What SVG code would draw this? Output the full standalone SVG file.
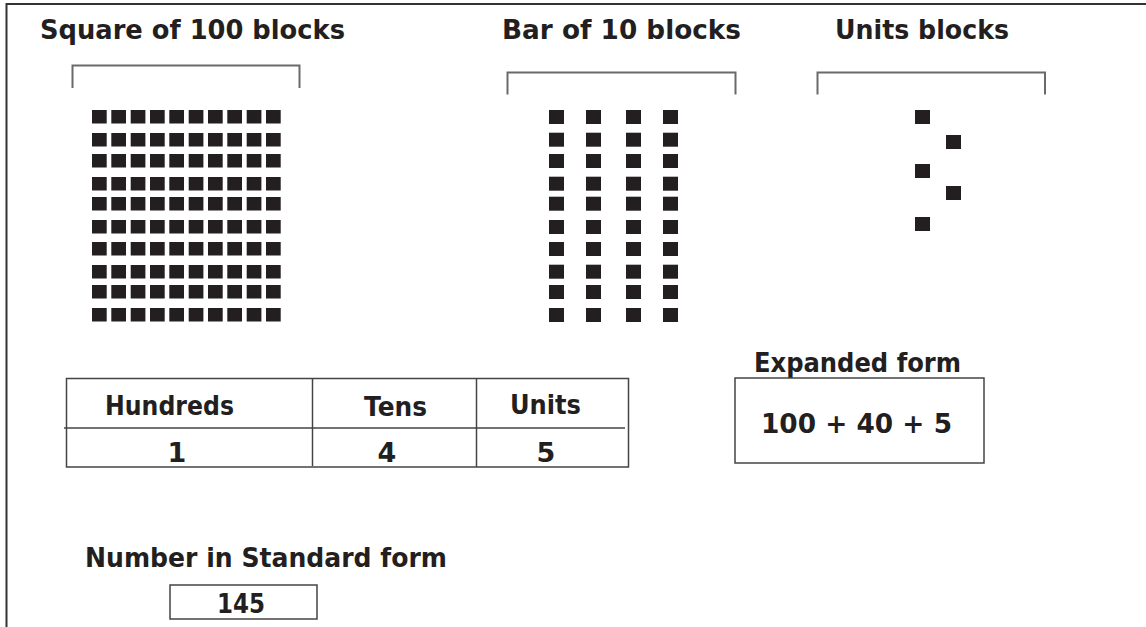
<svg xmlns="http://www.w3.org/2000/svg" xmlns:xlink="http://www.w3.org/1999/xlink" width="1146" height="627" viewBox="0 0 1146 627">
<style>
text{font-family:"DejaVu Sans","Liberation Sans",sans-serif;font-weight:bold;font-size:27px;fill:#231f20}
.blk{fill:#231f20}
.brk{fill:none;stroke:#6a6a6a;stroke-width:2}
.ln{fill:none;stroke:#444;stroke-width:1.5}
.mid{text-anchor:middle}
</style>
<defs>
<g id="row100">
<rect class="blk" x="92" y="0" width="14.7" height="13.5"/>
<rect class="blk" x="111.3" y="0" width="14.7" height="13.5"/>
<rect class="blk" x="130.7" y="0" width="14.7" height="13.5"/>
<rect class="blk" x="150" y="0" width="14.7" height="13.5"/>
<rect class="blk" x="169.3" y="0" width="14.7" height="13.5"/>
<rect class="blk" x="188.7" y="0" width="14.7" height="13.5"/>
<rect class="blk" x="208" y="0" width="14.7" height="13.5"/>
<rect class="blk" x="227.3" y="0" width="14.7" height="13.5"/>
<rect class="blk" x="246.7" y="0" width="14.7" height="13.5"/>
<rect class="blk" x="266" y="0" width="14.7" height="13.5"/>
</g>
<g id="row10">
<rect class="blk" x="549" y="0" width="15" height="14"/>
<rect class="blk" x="586" y="0" width="15" height="14"/>
<rect class="blk" x="626" y="0" width="15" height="14"/>
<rect class="blk" x="663" y="0" width="15" height="14"/>
</g>
</defs>
<rect width="1146" height="627" fill="#fff"/>
<path d="M6.5,627 V4 H1146" fill="none" stroke="#333" stroke-width="2"/>

<g id="hundreds-block">
<text x="40" y="39" textLength="305" lengthAdjust="spacingAndGlyphs">Square of 100 blocks</text>
<path class="brk" d="M72.5,88 V65.5 H299.5 V88"/>
<use xlink:href="#row100" y="110"/>
<use xlink:href="#row100" y="133"/>
<use xlink:href="#row100" y="154"/>
<use xlink:href="#row100" y="177"/>
<use xlink:href="#row100" y="197"/>
<use xlink:href="#row100" y="220"/>
<use xlink:href="#row100" y="242"/>
<use xlink:href="#row100" y="265"/>
<use xlink:href="#row100" y="285"/>
<use xlink:href="#row100" y="308"/>
</g>

<g id="tens-block">
<text x="502" y="39" textLength="239" lengthAdjust="spacingAndGlyphs">Bar of 10 blocks</text>
<path class="brk" d="M507.5,94.5 V72.5 H735.5 V94.5"/>
<use xlink:href="#row10" y="110"/>
<use xlink:href="#row10" y="132.7"/>
<use xlink:href="#row10" y="154"/>
<use xlink:href="#row10" y="176.7"/>
<use xlink:href="#row10" y="196.7"/>
<use xlink:href="#row10" y="220"/>
<use xlink:href="#row10" y="242"/>
<use xlink:href="#row10" y="264.7"/>
<use xlink:href="#row10" y="285"/>
<use xlink:href="#row10" y="308"/>
</g>

<g id="units-block">
<text x="835" y="39" textLength="174" lengthAdjust="spacingAndGlyphs">Units blocks</text>
<path class="brk" d="M817.5,94.5 V72.5 H1045 V94.5"/>
<rect class="blk" x="915" y="110" width="15" height="14"/>
<rect class="blk" x="946" y="135" width="15" height="14"/>
<rect class="blk" x="915" y="164" width="15" height="14"/>
<rect class="blk" x="946" y="186" width="15" height="14"/>
<rect class="blk" x="915" y="217" width="15" height="14"/>
</g>

<g id="place-value-table">
<path class="ln" d="M66.5,378.5 H628.5 V467 H66.5 Z"/>
<path class="ln" d="M64,428 H625"/>
<path class="ln" d="M312.5,378.5 V466"/>
<path class="ln" d="M476.5,378.5 V467"/>
<text x="105" y="415" textLength="129" lengthAdjust="spacingAndGlyphs">Hundreds</text>
<text x="364" y="416" textLength="63" lengthAdjust="spacingAndGlyphs">Tens</text>
<text x="510" y="414" textLength="71" lengthAdjust="spacingAndGlyphs">Units</text>
<text class="mid" x="177" y="462">1</text>
<text class="mid" x="387" y="462">4</text>
<text class="mid" x="546" y="462">5</text>
</g>

<g id="expanded-form">
<text x="754" y="372" textLength="207" lengthAdjust="spacingAndGlyphs">Expanded form</text>
<rect class="ln" x="735" y="378" width="249" height="85"/>
<text x="761" y="433" textLength="191" lengthAdjust="spacingAndGlyphs">100 + 40 + 5</text>
</g>

<g id="standard-form">
<text x="85" y="567" textLength="362" lengthAdjust="spacingAndGlyphs">Number in Standard form</text>
<rect class="ln" x="170" y="585" width="147" height="34"/>
<text x="217" y="613" textLength="48" lengthAdjust="spacingAndGlyphs">145</text>
</g>
</svg>
